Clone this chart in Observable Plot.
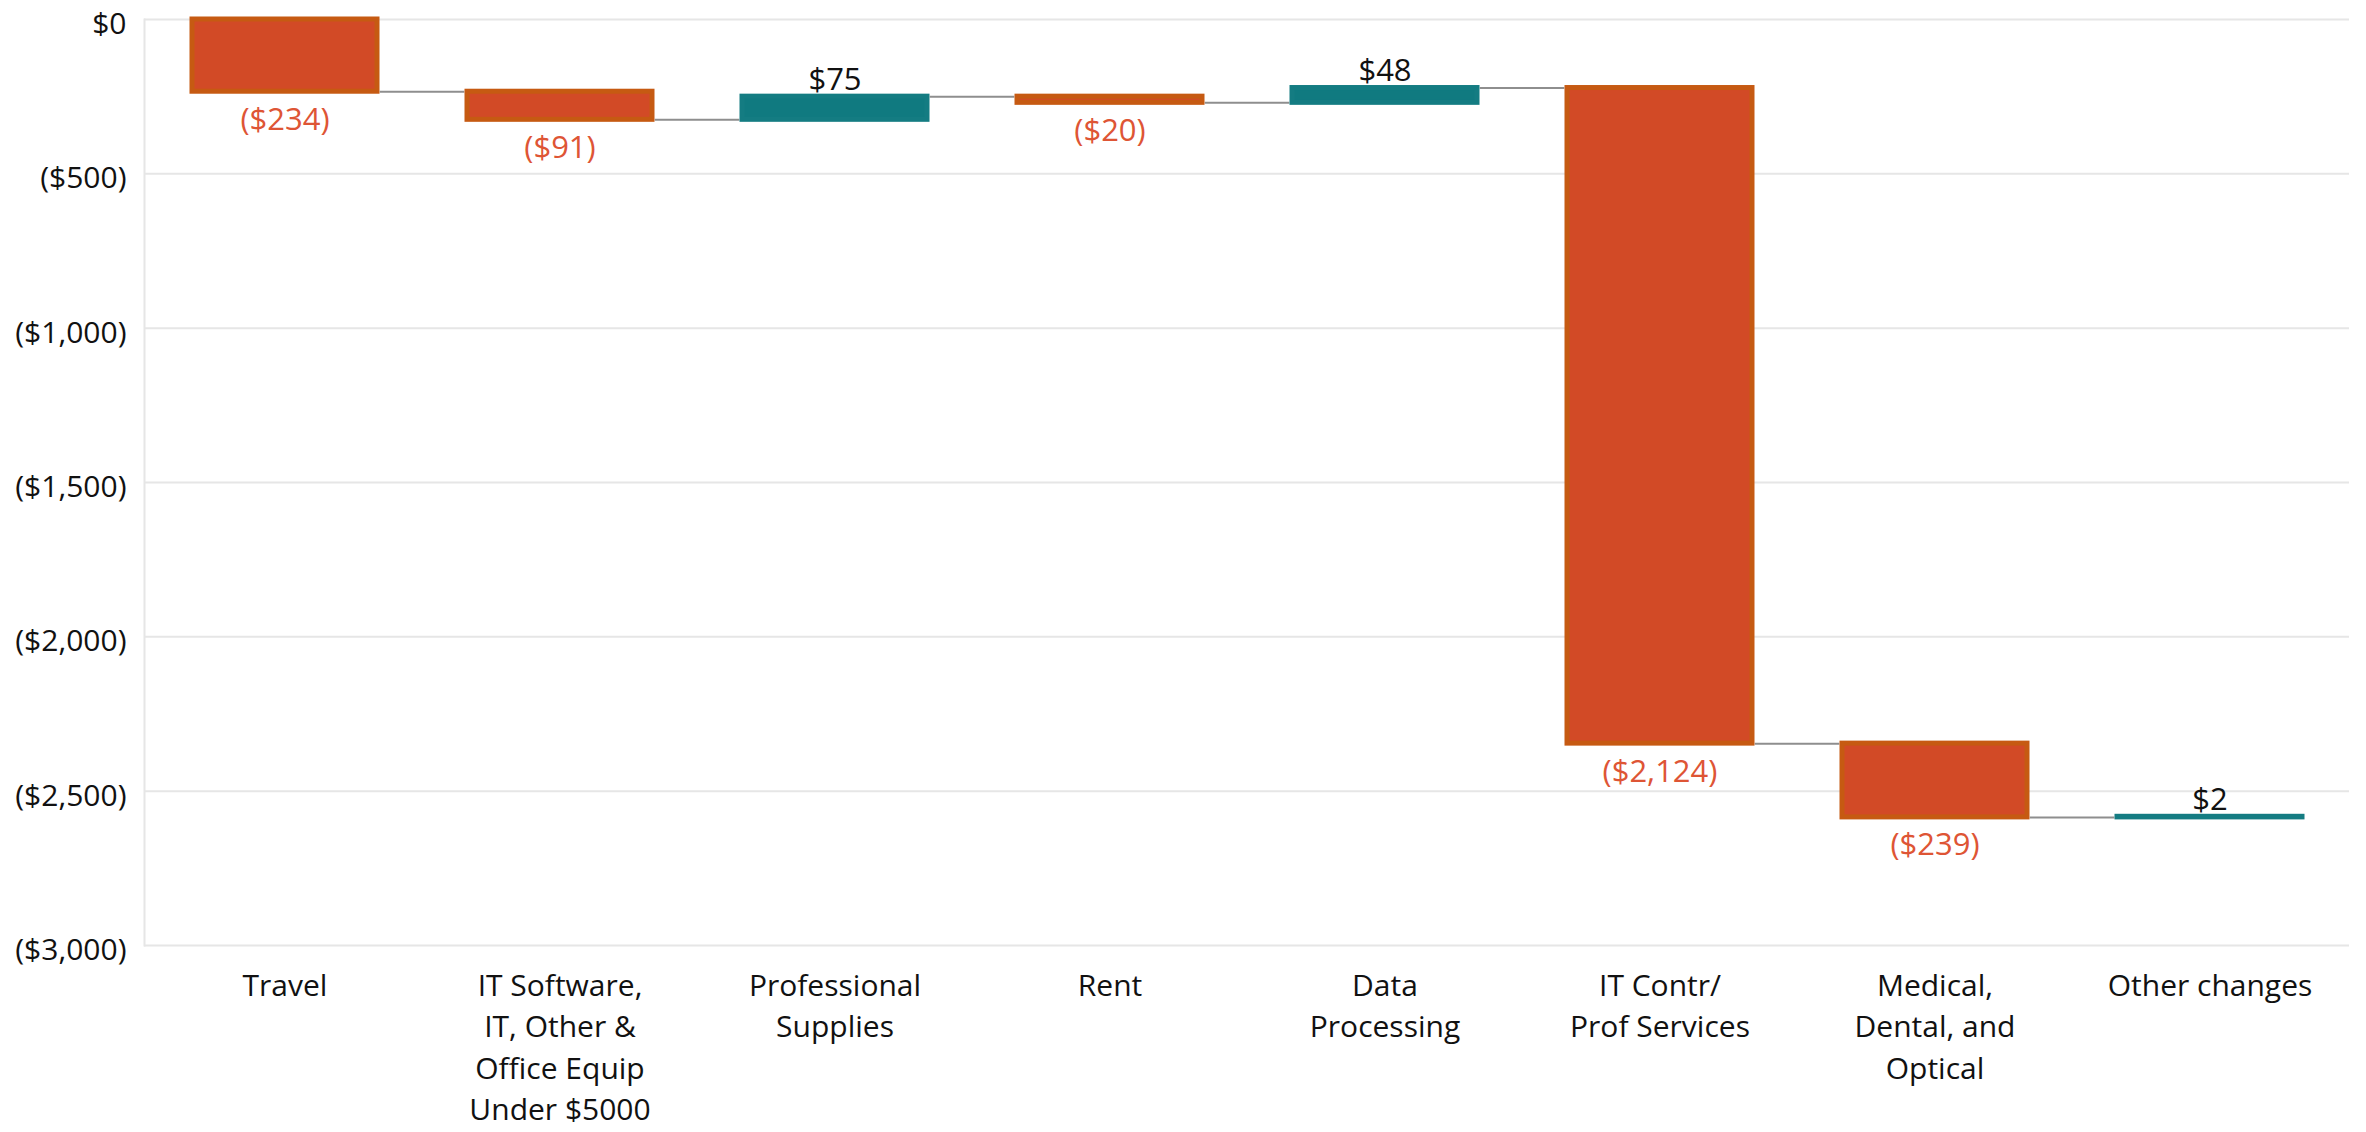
<!DOCTYPE html>
<html><head><meta charset="utf-8">
<script src="https://cdn.jsdelivr.net/npm/d3@7"></script>
<script src="https://cdn.jsdelivr.net/npm/@observablehq/plot@0.6"></script>
<style>
body{margin:0;background:#fff;overflow:hidden}
svg{display:block}
</style>
</head><body><div id="chart"></div>
<script>
const categories = ["Travel","IT Software","Professional Supplies","Rent","Data Processing","IT Contr/Prof Services","Medical, Dental, and Optical","Other changes"];
const tickLabels = ["Travel","IT Software,\nIT, Other &\nOffice Equip\nUnder $5000","Professional\nSupplies","Rent","Data\nProcessing","IT Contr/\nProf Services","Medical,\nDental, and\nOptical","Other changes"];
const changes = [-234,-91,75,-20,48,-2124,-239,2];
const yTicks = [0,-500,-1000,-1500,-2000,-2500,-3000];

const W = 2366, H = 1132;
const mL = 144, mR = 17, mT = 19, mB = 187;
const padIn = 0.328, padOut = 0.164;
const SW = 5;

let run = 0;
const data = categories.map((c, i) => {
  const start = run; run += changes[i];
  return {cat: c, label: tickLabels[i], change: changes[i], start, end: run};
});
const conns = data.slice(0, -1).map((d, i) => ({a: d.cat, b: data[i+1].cat, y: d.end}));

const bw = d3.scaleBand().domain(categories).range([mL, W - mR])
  .paddingInner(padIn).paddingOuter(padOut).bandwidth();

const money = v => v === 0 ? "$0" : v < 0 ? `($${d3.format(",")(-v)})` : `$${d3.format(",")(v)}`;
const labelOf = Object.fromEntries(data.map(d => [d.cat, d.label]));

const NEG = "#D24A26", NEG_STROKE = "#C65A12", POS = "#107A80", POS_STROKE = "#147C82";

const plot = Plot.plot({
  width: W, height: H,
  marginLeft: mL, marginRight: mR, marginTop: mT, marginBottom: mB,
  style: {fontFamily: "'Open Sans', sans-serif", background: "#fff"},
  x: {domain: categories, paddingInner: padIn, paddingOuter: padOut, align: 0.5},
  y: {domain: [-3000, 0]},
  marks: [
    Plot.gridY(yTicks, {stroke: "#e6e6e6", strokeOpacity: 1, strokeWidth: 2}),
    Plot.frame({anchor: "left", stroke: "#e6e6e6", strokeOpacity: 1, strokeWidth: 2}),
    Plot.axisY(yTicks, {tickSize: 0, tickPadding: 18, dy: 5, fontSize: 30, tickFormat: money, label: null, fill: "#111"}),
    Plot.axisX({tickSize: 0, tickPadding: 21, fontSize: 30, lineHeight: 1.38, tickFormat: c => labelOf[c], label: null, fill: "#111"}),
    Plot.ruleY(conns, {y: "y", x1: "a", x2: "b", insetLeft: bw + SW / 2, insetRight: bw + SW / 2, stroke: "#8e8e8e", strokeWidth: 2}),
    Plot.barY(data.filter(d => d.change < 0), {x: "cat", y1: "start", y2: "end", fill: NEG, stroke: NEG_STROKE, strokeWidth: SW}),
    Plot.barY(data.filter(d => d.change >= 0), {x: "cat", y1: "start", y2: "end", fill: POS, stroke: POS_STROKE, strokeWidth: SW}),
    Plot.text(data.filter(d => d.change < 0), {x: "cat", y: "end", text: d => money(d.change), dy: 28, fontSize: 31, fill: "#DE5535"}),
    Plot.text(data.filter(d => d.change >= 0), {x: "cat", y: "end", text: d => money(d.change), dy: -17, fontSize: 31, fill: "#111"})
  ]
});
document.getElementById("chart").appendChild(plot);
</script>
</body></html>
